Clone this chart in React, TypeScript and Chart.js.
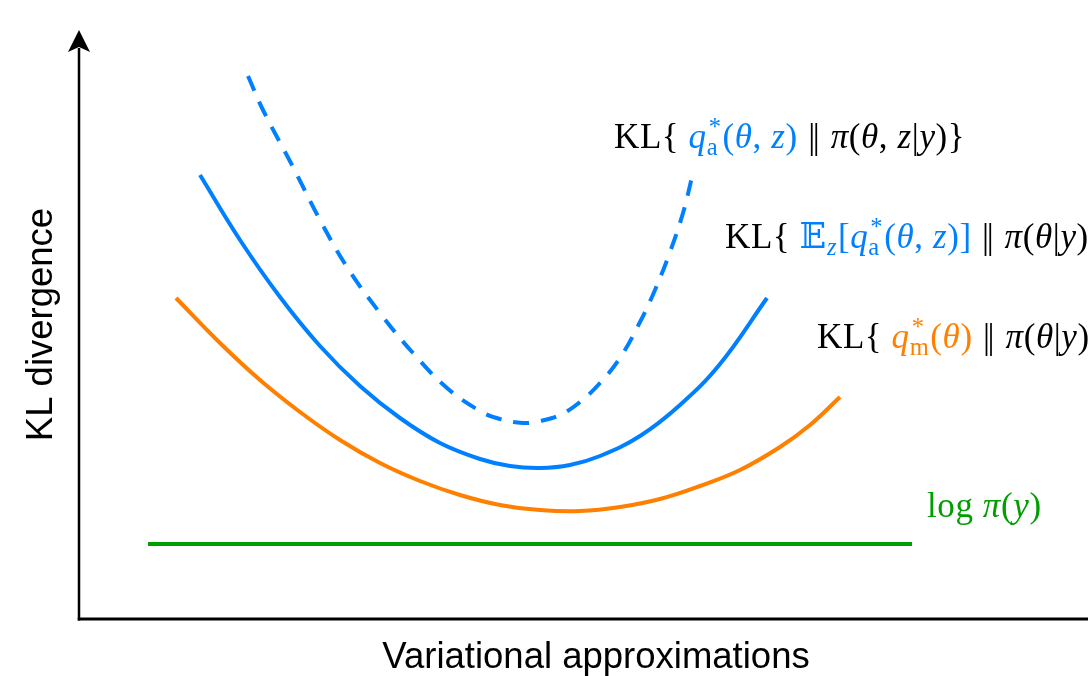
import { useEffect, useRef } from 'react';
import { Chart, registerables } from 'chart.js';

Chart.register(...registerables);

// Data (arbitrary units; x = variational approximation, y = KL divergence)
const jointX = [16.9, 18.4, 21.4, 24.1, 26.8, 30.1, 33.4, 36.8, 40.1, 42.1, 44.4, 46.1, 48.1, 50.1, 52.1, 54.1, 56.1, 57.6, 59.1, 60.4, 61.3];
const jointY = [54.3, 50.9, 45.2, 39.9, 35.2, 30.6, 26.6, 23.1, 20.8, 20.0, 19.6, 19.8, 20.4, 21.7, 23.6, 26.1, 29.7, 32.9, 36.7, 40.6, 44.2];

const margAugX = [12.1, 16.1, 20.1, 24.1, 28.1, 32.1, 36.1, 40.1, 43.1, 46.1, 49.1, 52.1, 56.1, 60.1, 64.1, 68.8];
const margAugY = [44.4, 37.9, 32.2, 27.3, 23.3, 20.1, 17.6, 16.0, 15.3, 15.1, 15.4, 16.3, 18.3, 21.4, 25.5, 32.1];

const margX = [9.7, 14.1, 18.1, 22.1, 26.1, 30.1, 34.1, 38.1, 42.1, 46.1, 50.1, 54.1, 58.1, 62.1, 66.1, 70.1, 73.1, 76.1];
const margY = [32.1, 27.6, 23.9, 20.7, 17.9, 15.6, 13.8, 12.4, 11.4, 10.9, 10.8, 11.2, 12.0, 13.3, 14.9, 17.2, 19.4, 22.2];

const evidenceX = [6.9, 83.3];
const evidenceY = [7.5, 7.5];

const X_MAX = 100.9;
const Y_MAX = 58.9;

const BLUE = '#0080ff';
const ORANGE = '#ff8000';
const GREEN = '#009e00';
const BLACK = '#000000';

const toPts = (xs: number[], ys: number[]) => xs.map((x, i) => ({ x, y: ys[i] }));

type Seg = { t?: string; c?: string; it?: boolean; sup?: string; sub?: string; subIt?: boolean; dx?: number };

const MATH_FONT = '"Liberation Serif", "DejaVu Serif", serif';
const MATH_SIZE = 35;

function drawMath(ctx: CanvasRenderingContext2D, segs: Seg[], x0: number, y0: number, size: number) {
  let x = x0;
  ctx.textBaseline = 'alphabetic';
  ctx.textAlign = 'left';
  for (const s of segs) {
    if (s.dx) x += s.dx;
    const col = s.c || BLACK;
    ctx.fillStyle = col;
    if (s.t !== undefined) {
      ctx.font = `${s.it ? 'italic ' : ''}${size}px ${MATH_FONT}`;
      ctx.fillText(s.t, x, y0);
      x += ctx.measureText(s.t).width;
    } else if (s.sup || s.sub) {
      const ss = size * 0.7;
      let w = 0;
      if (s.sup) {
        ctx.font = `${ss}px ${MATH_FONT}`;
        ctx.fillText(s.sup, x + 2, y0 - size * 0.36);
        w = Math.max(w, ctx.measureText(s.sup).width + 2);
      }
      if (s.sub) {
        ctx.font = `${s.subIt ? 'italic ' : ''}${ss}px ${MATH_FONT}`;
        ctx.fillText(s.sub, x, y0 + size * 0.2);
        w = Math.max(w, ctx.measureText(s.sub).width);
      }
      x += w + 1;
    }
  }
}

const PAR: Seg[] = [{ t: ' ' }, { t: '|', dx: 1 }, { t: '|', dx: -3 }, { t: ' ', dx: 1 }];

const label1: Seg[] = [
  { t: 'KL{ ' },
  { t: 'q', it: true, c: BLUE }, { sup: '*', sub: 'a', c: BLUE },
  { t: '(', c: BLUE }, { t: 'θ', it: true, c: BLUE }, { t: ', ', c: BLUE }, { t: 'z', it: true, c: BLUE }, { t: ')', c: BLUE },
  ...PAR,
  { t: 'π', it: true }, { t: '(' }, { t: 'θ', it: true }, { t: ', ' }, { t: 'z', it: true }, { t: '|' }, { t: 'y', it: true }, { t: ')}' },
];

const label2: Seg[] = [
  { t: 'KL{ ' },
  { t: '𝔼', c: BLUE }, { sub: 'z', subIt: true, c: BLUE },
  { t: '[', c: BLUE },
  { t: 'q', it: true, c: BLUE }, { sup: '*', sub: 'a', c: BLUE },
  { t: '(', c: BLUE }, { t: 'θ', it: true, c: BLUE }, { t: ', ', c: BLUE }, { t: 'z', it: true, c: BLUE }, { t: ')]', c: BLUE },
  ...PAR,
  { t: 'π', it: true }, { t: '(' }, { t: 'θ', it: true }, { t: '|' }, { t: 'y', it: true }, { t: ')}' },
];

const label3: Seg[] = [
  { t: 'KL{ ' },
  { t: 'q', it: true, c: ORANGE }, { sup: '*', sub: 'm', c: ORANGE },
  { t: '(', c: ORANGE }, { t: 'θ', it: true, c: ORANGE }, { t: ')', c: ORANGE },
  ...PAR,
  { t: 'π', it: true }, { t: '(' }, { t: 'θ', it: true }, { t: '|' }, { t: 'y', it: true }, { t: ')}' },
];

const label4: Seg[] = [
  { t: 'log ', c: GREEN }, { t: 'π', it: true, c: GREEN }, { t: '(', c: GREEN }, { t: 'y', it: true, c: GREEN }, { t: ')', c: GREEN },
];

const overlay = {
  id: 'overlay',
  beforeDatasetsDraw(chart: any) {
    const { ctx, chartArea } = chart;
    const { left, top, right, bottom } = chartArea;
    ctx.save();
    ctx.strokeStyle = BLACK;
    ctx.fillStyle = BLACK;
    // y axis
    ctx.lineWidth = 2.5;
    ctx.beginPath();
    ctx.moveTo(left, bottom + 1.5);
    ctx.lineTo(left, top + 18);
    ctx.stroke();
    ctx.beginPath();
    ctx.moveTo(left, top);
    ctx.lineTo(left + 11, top + 22);
    ctx.lineTo(left, top + 17);
    ctx.lineTo(left - 11, top + 22);
    ctx.closePath();
    ctx.fill();
    // x axis
    ctx.lineWidth = 3;
    ctx.beginPath();
    ctx.moveTo(left - 1.25, bottom);
    ctx.lineTo(right + 5, bottom);
    ctx.stroke();
    ctx.restore();
  },
  afterDraw(chart: any) {
    const { ctx, chartArea } = chart;
    const { left, bottom, top } = chartArea;
    ctx.save();
    ctx.fillStyle = BLACK;
    ctx.font = '36.5px "Liberation Sans", Arial, sans-serif';
    ctx.textAlign = 'center';
    ctx.textBaseline = 'middle';
    ctx.fillText('Variational approximations', 596, bottom + 39);
    ctx.save();
    ctx.translate(left - 37, (top + bottom) / 2);
    ctx.rotate(-Math.PI / 2);
    ctx.fillText('KL divergence', 0, 0);
    ctx.restore();

    (ctx as any).letterSpacing = '0.6px';
    drawMath(ctx, label1, 614, 148, MATH_SIZE);
    drawMath(ctx, label2, 725, 248, MATH_SIZE);
    drawMath(ctx, label3, 817, 348, MATH_SIZE);
    drawMath(ctx, label4, 927, 517, MATH_SIZE);
    ctx.restore();
  },
};

export default function App() {
  const ref = useRef<HTMLCanvasElement | null>(null);
  useEffect(() => {
    if (!ref.current) return;
    const common = { borderWidth: 4, pointRadius: 0, fill: false, tension: 0.4 };
    const chart = new Chart(ref.current, {
      type: 'line',
      data: {
        datasets: [
          { label: 'joint', data: toPts(jointX, jointY), borderColor: BLUE, borderDash: [16, 12], ...common },
          { label: 'marginal augmented', data: toPts(margAugX, margAugY), borderColor: BLUE, ...common },
          { label: 'marginal', data: toPts(margX, margY), borderColor: ORANGE, ...common },
          { label: 'evidence', data: toPts(evidenceX, evidenceY), borderColor: GREEN, ...common, tension: 0 },
        ],
      },
      options: {
        animation: false,
        responsive: false,
        maintainAspectRatio: false,
        layout: { padding: { left: 79, right: 0, top: 30, bottom: 57 } },
        plugins: { legend: { display: false }, tooltip: { enabled: false } },
        scales: {
          x: { type: 'linear', min: 0, max: X_MAX, display: false },
          y: { type: 'linear', min: 0, max: Y_MAX, display: false },
        },
      },
      plugins: [overlay],
    } as any);
    return () => chart.destroy();
  }, []);
  return (
    <div style={{ position: 'fixed', left: 0, top: 0, width: 1088, height: 676, background: '#fff' }}>
      <canvas ref={ref} width={1088} height={676} style={{ display: 'block' }} />
    </div>
  );
}
